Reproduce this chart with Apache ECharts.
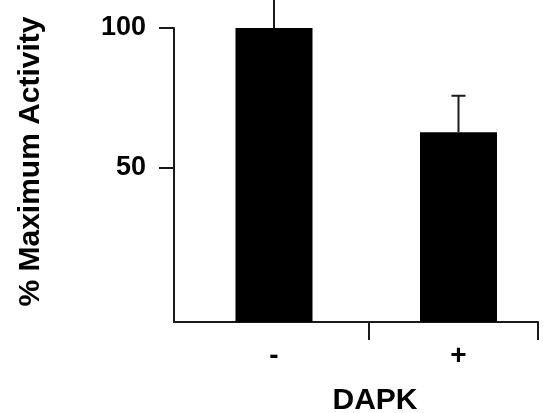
<!DOCTYPE html>
<html>
<head>
<meta charset="utf-8">
<script src="https://cdn.jsdelivr.net/npm/echarts@6/dist/echarts.min.js"></script>
<style>
html,body{margin:0;padding:0;background:#fff;}
#chart{width:544px;height:413px;}
</style>
</head>
<body>
<div id="chart"></div>
<script>
// Data
var categories = ['-', '+'];
var positions = [1, 2];
var values = [100, 62.8];
var errors = [13, 13];
var yTickValues = [50, 100];

var FONT = '"Liberation Sans", Arial, sans-serif';
var AXIS_COLOR = '#1a1a1a';
var Y_MIN = -5;

var barData = positions.map(function (p, i) { return [p, values[i], errors[i]]; });

var chart = echarts.init(document.getElementById('chart'), null, {renderer: 'canvas'});
chart.setOption({
  animation: false,
  backgroundColor: '#ffffff',
  grid: {left: 174, right: 6, top: 28, bottom: 91, containLabel: false, outerBoundsMode: 'none'},
  xAxis: {
    type: 'value',
    min: 0.458,
    max: 2.431,
    name: 'DAPK',
    nameLocation: 'middle',
    nameGap: 64,
    nameTextStyle: {fontFamily: FONT, fontWeight: 'bold', fontSize: 30, color: '#000', padding: [0, 0, 0, 38]},
    splitLine: {show: false},
    axisLine: {show: true, onZero: false, lineStyle: {color: AXIS_COLOR, width: 2}},
    axisTick: {show: true, length: 18, lineStyle: {color: AXIS_COLOR, width: 2}, customValues: [1.515, 2.431]},
    axisLabel: {
      margin: 20,
      fontFamily: FONT, fontWeight: 'bold', fontSize: 28, color: '#000',
      customValues: positions,
      formatter: function (v) {
        var i = positions.indexOf(Math.round(v));
        return i >= 0 ? categories[i] : '';
      }
    }
  },
  yAxis: {
    type: 'value',
    min: Y_MIN,
    max: 100,
    name: '% Maximum Activity',
    nameLocation: 'middle',
    nameGap: 128,
    nameTextStyle: {fontFamily: FONT, fontWeight: 'bold', fontSize: 30, color: '#000', padding: [0, 0, 0, 27]},
    splitLine: {show: false},
    axisLine: {show: true, onZero: false, lineStyle: {color: AXIS_COLOR, width: 2}},
    axisTick: {show: true, length: 15, lineStyle: {color: AXIS_COLOR, width: 2}, customValues: yTickValues},
    axisLabel: {
      margin: 28,
      fontFamily: FONT, fontWeight: 'bold', fontSize: 27, color: '#000',
      customValues: yTickValues
    }
  },
  series: [
    {
      type: 'custom',
      data: barData,
      clip: false,
      z: 3,
      renderItem: function (params, api) {
        var x = api.value(0);
        var v = api.value(1);
        var base = api.coord([x, Y_MIN]);
        var topBar = api.coord([x, v]);
        var topErr = api.coord([x, v + api.value(2)]);
        var w = 77;
        var half = 7;
        return {
          type: 'group',
          children: [
            {type: 'rect', shape: {x: base[0] - w / 2, y: topBar[1], width: w, height: base[1] - topBar[1]}, style: {fill: '#000'}},
            {type: 'line', shape: {x1: topBar[0], y1: topBar[1], x2: topErr[0], y2: topErr[1]}, style: {stroke: AXIS_COLOR, lineWidth: 2}},
            {type: 'line', shape: {x1: topErr[0] - half, y1: topErr[1], x2: topErr[0] + half, y2: topErr[1]}, style: {stroke: AXIS_COLOR, lineWidth: 2}}
          ]
        };
      }
    }
  ]
});
</script>
</body>
</html>
